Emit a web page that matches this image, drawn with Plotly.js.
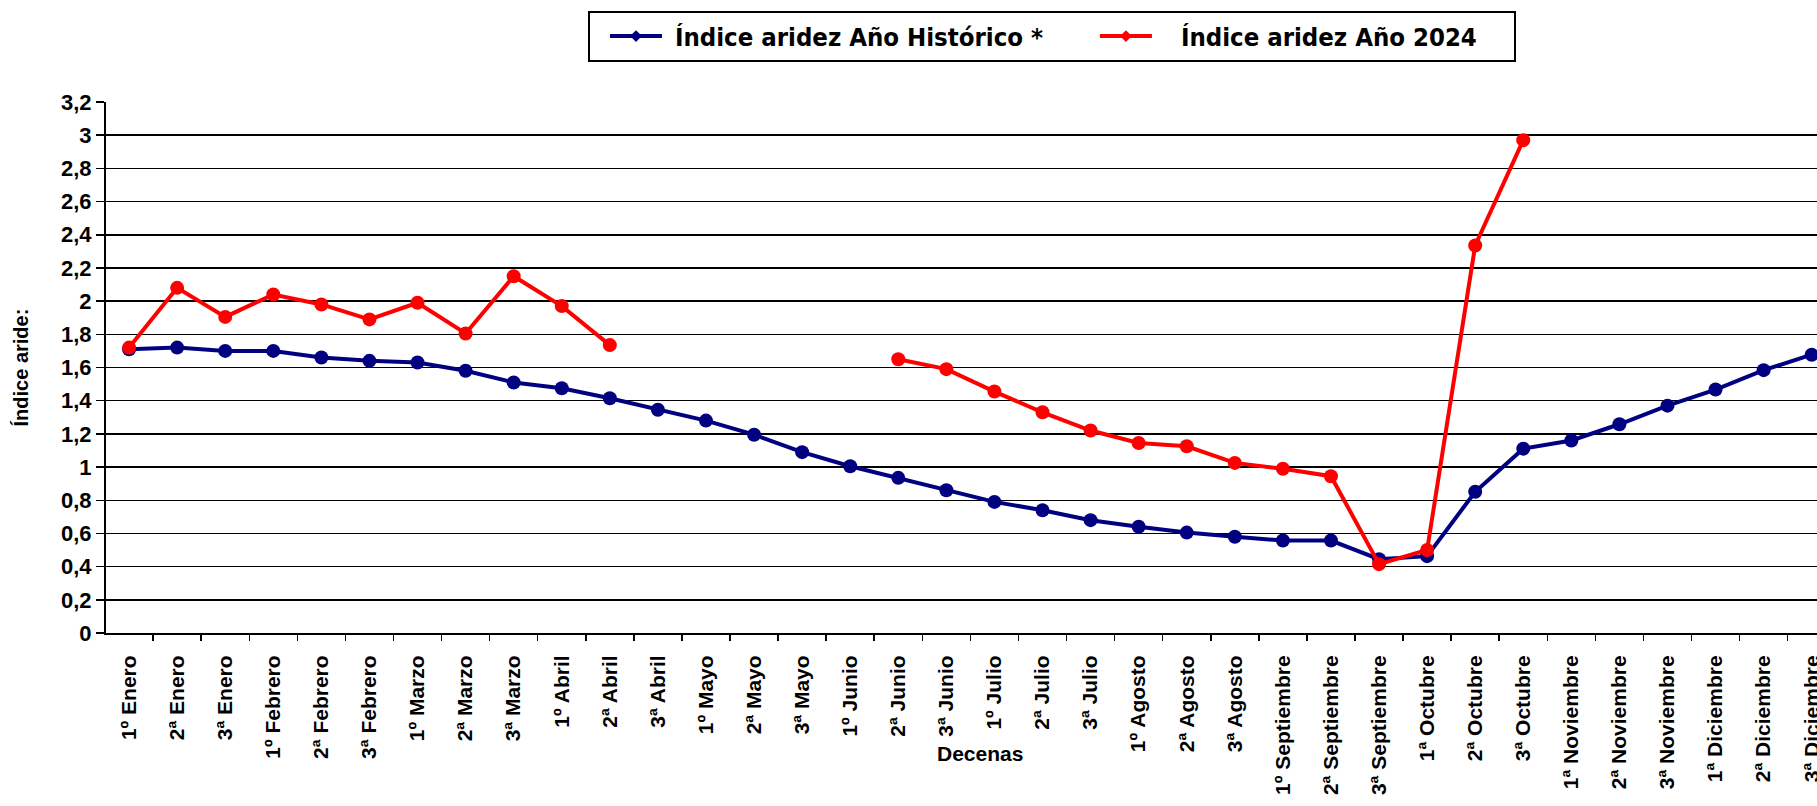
<!DOCTYPE html>
<html>
<head>
<meta charset="utf-8">
<script src="https://cdn.plot.ly/plotly-3.0.1.min.js"></script>
<style>
  html, body { margin: 0; padding: 0; background: #fff; }
  #chart { width: 1817px; height: 806px; }
</style>
</head>
<body>
<div id="chart"></div>
<script>
const categories = [
  "1º Enero", "2ª Enero", "3ª Enero",
  "1º Febrero", "2ª Febrero", "3ª Febrero",
  "1º Marzo", "2ª Marzo", "3ª Marzo",
  "1º Abril", "2ª Abril", "3ª Abril",
  "1º Mayo", "2ª Mayo", "3ª Mayo",
  "1º Junio", "2ª Junio", "3ª Junio",
  "1º Julio", "2ª Julio", "3ª Julio",
  "1º Agosto", "2ª Agosto", "3ª Agosto",
  "1º Septiembre", "2ª Septiembre", "3ª Septiembre",
  "1ª Octubre", "2ª Octubre", "3ª Octubre",
  "1ª Noviembre", "2ª Noviembre", "3ª Noviembre",
  "1ª Diciembre", "2ª Diciembre", "3ª Diciembre"
];

const historico = [
  1.71, 1.72, 1.70,
  1.70, 1.66, 1.64,
  1.63, 1.58, 1.51,
  1.475, 1.415, 1.345,
  1.28, 1.195, 1.09,
  1.005, 0.935, 0.86,
  0.79, 0.74, 0.68,
  0.64, 0.605, 0.58,
  0.557, 0.557, 0.445,
  0.463, 0.851, 1.111,
  1.16, 1.258, 1.37,
  1.467, 1.584, 1.677
];

const anio2024 = [
  1.72, 2.08, 1.905,
  2.04, 1.98, 1.89,
  1.99, 1.805, 2.15,
  1.97, 1.735, null,
  null, null, null,
  null, 1.65, 1.59,
  1.455, 1.33, 1.22,
  1.145, 1.125, 1.025,
  0.99, 0.945, 0.415,
  0.50, 2.335, 2.97,
  null, null, null,
  null, null, null
];

const NB = "\u00a0";
const seriesNames = [
  NB + "Índice aridez Año Histórico *" + NB.repeat(4),
  NB.repeat(3) + "Índice aridez Año 2024" + NB.repeat(4)
];
const seriesColors = ["#000080", "#ff0000"];
const yTitle = "Índice aride:";
const xTitle = "Decenas";

const traces = [
  {
    type: "scatter", mode: "lines+markers",
    x: categories, y: historico, name: seriesNames[0],
    showlegend: false,
    line: { color: seriesColors[0], width: 4 },
    marker: { color: seriesColors[0], size: 14 },
    cliponaxis: false
  },
  {
    type: "scatter", mode: "lines+markers",
    x: categories, y: anio2024, name: seriesNames[1],
    showlegend: false,
    connectgaps: false,
    line: { color: seriesColors[1], width: 4 },
    marker: { color: seriesColors[1], size: 14 },
    cliponaxis: false
  },
  // legend-only entries (no data), drawn with the small diamond key of the original
  {
    type: "scatter", mode: "lines+markers",
    x: [null], y: [null], name: seriesNames[0],
    line: { color: seriesColors[0], width: 4 },
    marker: { color: seriesColors[0], size: 9, symbol: "diamond" }
  },
  {
    type: "scatter", mode: "lines+markers",
    x: [null], y: [null], name: seriesNames[1],
    line: { color: seriesColors[1], width: 4 },
    marker: { color: seriesColors[1], size: 9, symbol: "diamond" }
  }
];

const boldFont = "Liberation Sans, Arial, sans-serif";

const layout = {
  width: 1817, height: 806,
  margin: { l: 106, r: 0, t: 102, b: 173 },
  paper_bgcolor: "#fff", plot_bgcolor: "#fff",
  separators: ",.",
  showlegend: true,
  legend: {
    orientation: "h",
    x: 0.2817, xanchor: "left",
    y: 1.1714, yanchor: "top",
    bordercolor: "#000", borderwidth: 2,
    bgcolor: "#fff",
    itemwidth: 52,
    indentation: 15,
    font: { family: "DejaVu Sans Condensed, DejaVu Sans, sans-serif", size: 25.5, color: "#000", weight: "bold" }
  },
  xaxis: {
    type: "category",
    categoryorder: "array", categoryarray: categories,
    range: [-0.48, 35.11],
    tickangle: -90,
    ticks: "outside", tickson: "boundaries",
    ticklen: 6, tickwidth: 1.5, tickcolor: "#000",
    ticklabelstandoff: 12,
    showline: true, linecolor: "#000", linewidth: 2,
    showgrid: false,
    tickfont: { family: boldFont, size: 21, color: "#000", weight: "bold" },
    automargin: false
  },
  yaxis: {
    range: [0, 3.2], dtick: 0.2, tick0: 0,
    ticks: "outside", ticklen: 8, tickwidth: 1.5, tickcolor: "#000",
    showline: true, linecolor: "#000", linewidth: 2,
    showgrid: true, gridcolor: "#000", gridwidth: 1.5,
    zeroline: false,
    tickfont: { family: boldFont, size: 22, color: "#000", weight: "bold" },
    automargin: false
  },
  annotations: [
    {
      text: yTitle, xref: "paper", yref: "paper",
      x: -0.0497, y: 0.5, textangle: -90, showarrow: false,
      xanchor: "center", yanchor: "middle",
      font: { family: boldFont, size: 20, color: "#000", weight: "bold" }
    },
    {
      text: xTitle, xref: "paper", yref: "paper",
      x: 0.511, y: -0.226, showarrow: false,
      xanchor: "center", yanchor: "middle",
      font: { family: boldFont, size: 21, color: "#000", weight: "bold" }
    }
  ]
};

Plotly.newPlot("chart", traces, layout, { displayModeBar: false, staticPlot: true });
</script>
</body>
</html>
